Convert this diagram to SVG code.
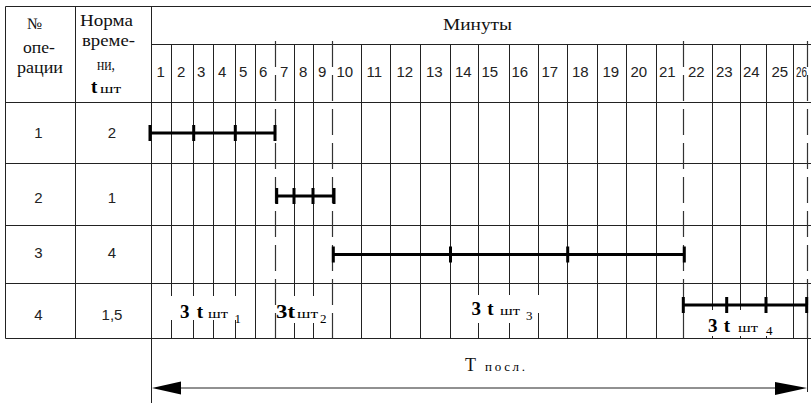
<svg xmlns="http://www.w3.org/2000/svg" width="811" height="403" viewBox="0 0 811 403">
<style>
.g{stroke:#222;stroke-width:1;fill:none}
.d{stroke:#333;stroke-width:1.2;fill:none;stroke-dasharray:26 8}
.bar{stroke:#000;stroke-width:3.2;fill:none}
.tick{fill:#000}
.n{font-family:"Liberation Sans",Arial,sans-serif;font-size:15px;fill:#222}
.s{font-family:"Liberation Serif","Times New Roman",serif;font-size:16px;fill:#111}
.b{font-family:"Liberation Serif","Times New Roman",serif;font-size:19px;font-weight:bold;fill:#000}
.sm{font-family:"Liberation Serif","Times New Roman",serif;font-size:13px;fill:#000}
.c{text-anchor:middle}
</style>
<rect width="811" height="403" fill="#fff"/>
<g id="grid">
<path class="g" d="M5.5 6.5H811M151 44.5H811M5.5 102.5H811M5.5 163.5H811M5.5 225.5H811M5.5 283.5H811M5.5 338.5H811"/>
<path class="g" d="M5.5 6.5V338.5M75.5 6.5V338.5M151.5 6.5V403"/>
<path class="g" d="M171.5 44.5V338.5M193.5 44.5V338.5M213.5 44.5V338.5M235.5 44.5V338.5M255.5 44.5V338.5M294.5 44.5V338.5M313.5 44.5V338.5M361.5 44.5V338.5M390.5 44.5V338.5M420.5 44.5V338.5M450.5 44.5V338.5M478.5 44.5V338.5M509.5 44.5V338.5M538.5 44.5V338.5M567.5 44.5V338.5M597.5 44.5V338.5M626.5 44.5V338.5M656.5 44.5V338.5M712.5 44.5V338.5M740.5 44.5V338.5M766.5 44.5V338.5M793.5 44.5V338.5"/>
<path class="d" d="M275.5 41V338.5M332.5 41V338.5M683.5 41V338.5M807.5 41V338.5"/>
<path class="g" d="M807.5 338.5V392"/>
</g>
<g id="header">
<text class="s" x="27" y="29" textLength="15" lengthAdjust="spacingAndGlyphs">№</text>
<text class="s" x="23" y="53" textLength="32" lengthAdjust="spacingAndGlyphs">опе-</text>
<text class="s" x="17" y="73" textLength="46" lengthAdjust="spacingAndGlyphs">рации</text>
<text class="s" x="80" y="26" textLength="53" lengthAdjust="spacingAndGlyphs">Норма</text>
<text class="s" x="82" y="46" textLength="53" lengthAdjust="spacingAndGlyphs">време-</text>
<text class="s" x="97" y="70" textLength="18" lengthAdjust="spacingAndGlyphs">ни,</text>
<text class="b" x="91" y="93">t</text>
<text class="sm" x="100" y="93" textLength="21" lengthAdjust="spacingAndGlyphs">шт</text>
<text class="s" x="443" y="30" textLength="69" lengthAdjust="spacingAndGlyphs">Минуты</text>
</g>
<g id="minutes" class="n">
<text x="156.5" y="77">1</text><text x="177" y="77">2</text><text x="197" y="77">3</text><text x="218" y="77">4</text><text x="239" y="77">5</text><text x="259" y="77">6</text><text x="280" y="77">7</text><text x="299" y="77">8</text><text x="318" y="77">9</text><text x="336.5" y="77">10</text><text x="366.5" y="77">11</text><text x="396.5" y="77">12</text><text x="426" y="77">13</text><text x="455" y="77">14</text><text x="481.5" y="77">15</text><text x="511.5" y="77">16</text><text x="541.5" y="77">17</text><text x="572" y="77">18</text><text x="602.5" y="77">19</text><text x="630.5" y="77">20</text><text x="659" y="77">21</text><text x="688" y="77">22</text><text x="716" y="77">23</text><text x="743" y="77">24</text><text x="771.5" y="77">25</text><text x="796" y="77" textLength="11" lengthAdjust="spacingAndGlyphs">26</text>
</g>
<g id="row1"><text class="n c" x="38.5" y="137.5">1</text><text class="n c" x="112" y="137.5">2</text></g>
<g id="row2"><text class="n c" x="38.5" y="202.5">2</text><text class="n c" x="112" y="202.5">1</text></g>
<g id="row3"><text class="n c" x="38.5" y="258">3</text><text class="n c" x="112" y="258">4</text></g>
<g id="row4"><text class="n c" x="38.5" y="320">4</text><text class="n c" x="112" y="320">1,5</text></g>
<g id="masks" fill="#fff">
<rect x="166" y="296" width="82" height="24"/>
<rect x="285" y="296" width="36" height="27"/>
<rect x="470" y="295" width="62" height="28"/>
<rect x="532" y="295" width="10" height="18"/>
<rect x="700" y="310" width="85" height="26"/>
</g>
<g id="bars">
<path class="bar" d="M150 133H275M276.5 196H334M333.5 254.5H684.5M683.5 305H807"/>
<g class="tick">
<rect x="148.5" y="125" width="3" height="16"/><rect x="192.2" y="125" width="3" height="16"/><rect x="233.8" y="125" width="3" height="16"/><rect x="273.5" y="125" width="3" height="16"/>
<rect x="275.2" y="188" width="3" height="16"/><rect x="292.5" y="188" width="3" height="16"/><rect x="311.5" y="188" width="3" height="16"/><rect x="332.5" y="188" width="3" height="16"/>
<rect x="331.8" y="246.5" width="3" height="16"/><rect x="449" y="246.5" width="3" height="16"/><rect x="566.2" y="246.5" width="3" height="16"/><rect x="682.8" y="246.5" width="3" height="16"/>
<rect x="681.8" y="297" width="3" height="16"/><rect x="725.2" y="297" width="3" height="16"/><rect x="764.5" y="297" width="3" height="16"/><rect x="805.2" y="297" width="3" height="16"/>
</g>
</g>
<g id="labels">
<text class="b" x="180" y="317.5" textLength="23" lengthAdjust="spacing">3 t</text><text class="sm" x="208" y="317.5" textLength="20" lengthAdjust="spacingAndGlyphs">шт</text><text class="sm" x="234.5" y="323">1</text>
<text class="b" x="276" y="318" textLength="19" lengthAdjust="spacingAndGlyphs">3t</text><text class="sm" x="297" y="318" textLength="21" lengthAdjust="spacingAndGlyphs">шт</text><text class="sm" x="320" y="323">2</text>
<text class="b" x="471.5" y="315" textLength="22" lengthAdjust="spacing">3 t</text><text class="sm" x="500" y="315" textLength="20" lengthAdjust="spacingAndGlyphs">шт</text><text class="sm" x="526" y="320">3</text>
<text class="b" x="708" y="332" textLength="22" lengthAdjust="spacing">3 t</text><text class="sm" x="738" y="332" textLength="20" lengthAdjust="spacingAndGlyphs">шт</text><text class="sm" x="766" y="335">4</text>
</g>
<g id="connectors">
<path class="g" d="M181 388H775"/>
<polygon points="152,388 181,381.5 181,394.5" fill="#000"/>
<polygon points="807,388 775,382 775,395" fill="#000"/>
</g>
<g id="total">
<text class="s" x="465" y="371" style="font-size:18px">T</text>
<text class="sm" x="485" y="371" textLength="40" lengthAdjust="spacing">посл.</text>
</g>
</svg>
